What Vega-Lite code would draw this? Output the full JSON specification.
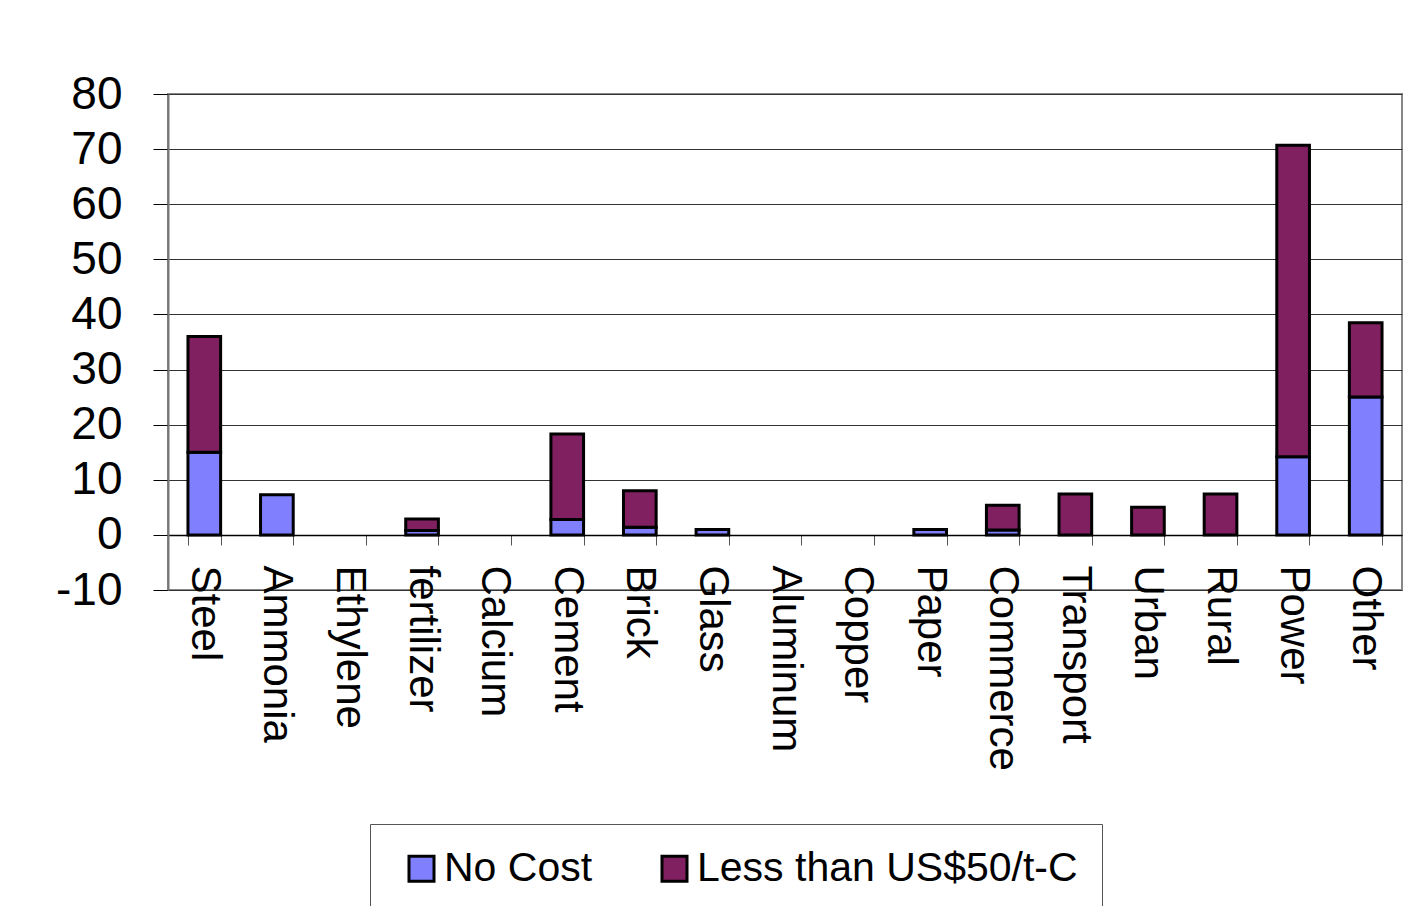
{
  "$schema": "https://vega.github.io/schema/vega-lite/v6.json",
  "width": 1234,
  "height": 496,
  "autosize": {"type": "none"},
  "padding": {"left": 168, "top": 94, "right": 21, "bottom": 316},
  "background": "white",
  "config": {
    "font": "Liberation Sans",
    "view": {"stroke": "#888888", "strokeWidth": 2}
  },
  "data": {
    "values": [
      {"sector": "Steel", "series": "No Cost", "value": 15},
      {"sector": "Steel", "series": "Less than US$50/t-C", "value": 21},
      {"sector": "Ammonia", "series": "No Cost", "value": 7.3},
      {"sector": "fertilizer", "series": "No Cost", "value": 0.8},
      {"sector": "fertilizer", "series": "Less than US$50/t-C", "value": 2.1},
      {"sector": "Cement", "series": "No Cost", "value": 2.8},
      {"sector": "Cement", "series": "Less than US$50/t-C", "value": 15.5},
      {"sector": "Brick", "series": "No Cost", "value": 1.4},
      {"sector": "Brick", "series": "Less than US$50/t-C", "value": 6.6},
      {"sector": "Glass", "series": "No Cost", "value": 1.0},
      {"sector": "Paper", "series": "No Cost", "value": 1.0},
      {"sector": "Commerce", "series": "No Cost", "value": 0.9},
      {"sector": "Commerce", "series": "Less than US$50/t-C", "value": 4.5},
      {"sector": "Transport", "series": "Less than US$50/t-C", "value": 7.4},
      {"sector": "Urban", "series": "Less than US$50/t-C", "value": 5.0},
      {"sector": "Rural", "series": "Less than US$50/t-C", "value": 7.4},
      {"sector": "Power", "series": "No Cost", "value": 14.2},
      {"sector": "Power", "series": "Less than US$50/t-C", "value": 56.5},
      {"sector": "Other", "series": "No Cost", "value": 25.0},
      {"sector": "Other", "series": "Less than US$50/t-C", "value": 13.5}
    ]
  },
  "mark": {"type": "bar", "stroke": "black", "strokeWidth": 3},
  "encoding": {
    "x": {
      "field": "sector",
      "type": "nominal",
      "scale": {
        "domain": ["Steel", "Ammonia", "Ethylene", "fertilizer", "Calcium", "Cement", "Brick", "Glass", "Aluminum", "Copper", "Paper", "Commerce", "Transport", "Urban", "Rural", "Power", "Other"],
        "paddingInner": 0.55,
        "paddingOuter": 0.275
      },
      "axis": {
        "title": null,
        "offset": -55,
        "labelAngle": 90,
        "labelAlign": "left",
        "labelBaseline": "middle",
        "labelFontSize": 42,
        "labelColor": "black",
        "labelPadding": 20,
        "tickSize": 10,
        "tickColor": "#555555",
        "tickBand": "extent",
        "domainColor": "black",
        "domainWidth": 1.5,
        "labelLimit": 0
      }
    },
    "y": {
      "field": "value",
      "type": "quantitative",
      "stack": "zero",
      "scale": {"domain": [-10, 80], "nice": false, "zero": false},
      "axis": {
        "title": null,
        "values": [-10, 0, 10, 20, 30, 40, 50, 60, 70, 80],
        "labelExpr": "datum.value + ''",
        "labelFontSize": 46,
        "labelColor": "black",
        "labelPadding": 31,
        "tickSize": 15,
        "tickColor": "black",
        "domainColor": "#777777",
        "domainWidth": 2,
        "gridColor": "#333333",
        "gridWidth": 1
      }
    },
    "color": {
      "field": "series",
      "type": "nominal",
      "scale": {"domain": ["No Cost", "Less than US$50/t-C"], "range": ["#8080FF", "#802060"]},
      "legend": {
        "title": null,
        "orient": "none",
        "legendX": 202,
        "legendY": 730,
        "direction": "horizontal",
        "columns": 2,
        "padding": 24,
        "symbolOffset": 7,
        "columnPadding": 54,
        "symbolType": "square",
        "symbolSize": 625,
        "symbolStrokeColor": "black",
        "symbolStrokeWidth": 3,
        "labelFontSize": 41,
        "labelColor": "black",
        "labelOffset": 2,
        "labelLimit": 0,
        "strokeColor": "#555555"
      }
    },
    "order": {"field": "series", "sort": "descending"}
  }
}
